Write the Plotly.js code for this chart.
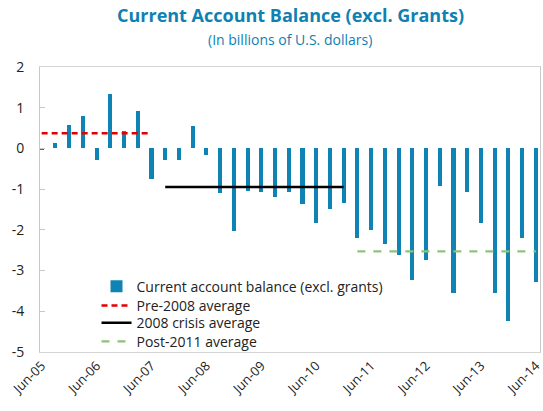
<!DOCTYPE html>
<html>
<head>
<meta charset="utf-8">
<script src="https://cdn.plot.ly/plotly-3.0.1.min.js"></script>
<style>html,body{margin:0;padding:0;background:#fff;}#chart{width:543px;height:411px;}</style>
</head>
<body>
<div id="chart"></div>
<script>
const quarters = ["Jun-05","Sep-05","Dec-05","Mar-06","Jun-06","Sep-06","Dec-06","Mar-07",
  "Jun-07","Sep-07","Dec-07","Mar-08","Jun-08","Sep-08","Dec-08","Mar-09",
  "Jun-09","Sep-09","Dec-09","Mar-10","Jun-10","Sep-10","Dec-10","Mar-11",
  "Jun-11","Sep-11","Dec-11","Mar-12","Jun-12","Sep-12","Dec-12","Mar-13",
  "Jun-13","Sep-13","Dec-13","Mar-14","Jun-14"];
const balance = [-0.05,0.14,0.57,0.80,-0.29,1.33,0.43,0.93,
  -0.74,-0.29,-0.29,0.55,-0.15,-1.09,-2.02,-1.05,
  -1.06,-1.19,-1.07,-1.36,-1.82,-1.49,-1.33,-2.19,
  -2.00,-2.35,-2.62,-3.23,-2.74,-0.93,-3.54,-1.08,
  -1.83,-3.54,-4.24,-2.20,-3.27];
const tickLabels = ["Jun-05","Jun-06","Jun-07","Jun-08","Jun-09","Jun-10","Jun-11","Jun-12","Jun-13","Jun-14"];
const yTickVals = [2,1,0,-1,-2,-3,-4,-5];
const yTickText = ["2","1","0","-1","-2","-3","-4","-5"];
const preX = ["Jun-05","Jun-07"];
const preAvg = [0.37,0.37];
const crisisX = ["Sep-07","Dec-10"];
const crisisAvg = [-0.95,-0.95];
const postX = ["Mar-11","Jun-14"];
const postAvg = [-2.53,-2.53];

const font2 = "'Open Sans', Lato, sans-serif";
const teal = "#0f80b2";
const traces = [
  {type:"bar", x:quarters, y:balance, name:"Current account balance (excl. grants)",
   marker:{color:"#0f84b4", line:{width:0}}, width:0.3, legend:"legend"},
  {type:"scatter", mode:"lines", x:preX, y:preAvg, name:"Pre-2008 average",
   line:{color:"#e30000", width:2.5, dash:"6px,4px"}, legend:"legend2"},
  {type:"scatter", mode:"lines", x:crisisX, y:crisisAvg, name:"2008 crisis average",
   line:{color:"#000000", width:2.5}, legend:"legend3"},
  {type:"scatter", mode:"lines", x:postX, y:postAvg, name:"Post-2011 average",
   line:{color:"#8cc27c", width:2.2, dash:"8px,8px"}, legend:"legend4"}
];
function leg(yc){
  return {x:0.113, y:yc, xanchor:"left", yanchor:"middle", bgcolor:"rgba(0,0,0,0)",
    font:{family:font2, size:14, color:"#222"}, itemwidth:30};
}
const layout = {
  width:543, height:411,
  margin:{l:40, r:3, t:67, b:59},
  paper_bgcolor:"#fff", plot_bgcolor:"#fff",
  font:{family:font2, color:"#222"},
  title:{text:"<b>Current Account Balance (excl. Grants)</b>",
    font:{family:font2, size:18, color:teal}, x:0.535, xanchor:"center",
    y:1-16/411, yanchor:"middle"},
  annotations:[{text:"(In billions of U.S. dollars)", xref:"paper", yref:"paper",
    x:0.5, xanchor:"center", y:1+27/285, yanchor:"middle", showarrow:false,
    font:{family:font2, size:14, color:teal}}],
  showlegend:true,
  legend:leg(0.229), legend2:leg(0.162), legend3:leg(0.101), legend4:leg(0.036),
  bargap:0,
  xaxis:{type:"category", categoryorder:"array", categoryarray:quarters,
    range:[-0.12,36.3], tickmode:"array", tickvals:tickLabels, ticktext:tickLabels,
    tickangle:-45, ticks:"", showgrid:false, zeroline:false,
    showline:true, mirror:true, linecolor:"#d4d4d4", linewidth:1,
    tickfont:{family:font2, size:13, color:"#222"}},
  xaxis2:{type:"category", overlaying:"x", matches:"x", anchor:"free", position:5/7,
    side:"bottom", tickmode:"array", tickvals:tickLabels, showticklabels:false,
    ticks:"inside", ticklen:5, tickcolor:"#bfbfbf", showline:true, linecolor:"#bfbfbf",
    showgrid:false, zeroline:false},
  yaxis:{range:[-5,2], tickmode:"array", tickvals:yTickVals, ticktext:yTickText,
    showgrid:false, zeroline:false,
    showline:true, mirror:true, linecolor:"#c8c8c8", ticks:"inside", ticklen:5,
    tickcolor:"#c8c8c8", ticklabelstandoff:12,
    tickfont:{family:font2, size:14, color:"#222"}}
};
Plotly.newPlot("chart", traces, layout, {displayModeBar:false, staticPlot:true});
</script>
</body>
</html>
